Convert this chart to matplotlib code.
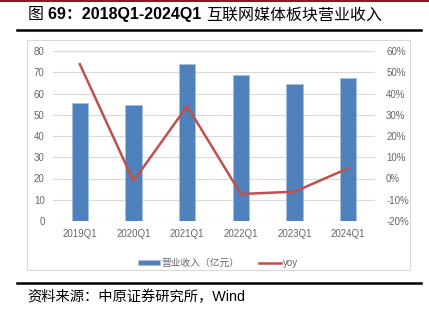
import numpy as np
import matplotlib
matplotlib.use("Agg")
import matplotlib.pyplot as plt
from matplotlib.lines import Line2D
from matplotlib.patches import Rectangle

plt.rcParams['font.family'] = ['Liberation Sans', 'Noto Sans CJK SC', 'DejaVu Sans']
FAM = ['Liberation Sans', 'Noto Sans CJK SC']

quarters = ['2019Q1', '2020Q1', '2021Q1', '2022Q1', '2023Q1', '2024Q1']
revenue = [55.5, 54.8, 73.8, 68.6, 64.5, 67.5]   # 营业收入（亿元）
yoy = [53.8, -1.2, 34.1, -7.3, -6.2, 4.8]        # %

W, H = 429, 322
fig = plt.figure(figsize=(W / 100, H / 100), dpi=100)

def px(x0, y0, x1, y1):
    # pixel box -> figure fraction
    return [x0 / W, 1 - y1 / H, (x1 - x0) / W, (y1 - y0) / H]

# decoration lines
fig.add_artist(Line2D([0, 1], [1 - 0.5 / H, 1 - 0.5 / H], color='#8B1A1A', lw=1.5))
fig.add_artist(Line2D([17 / W, 421 / W], [1 - 29.5 / H] * 2, color='black', lw=1.8))
fig.add_artist(Line2D([17 / W, 421 / W], [1 - 283 / H] * 2, color='black', lw=1.8))
fig.add_artist(Rectangle((27 / W, 1 - 270 / H), 383 / W, 230 / H, fill=False,
                         edgecolor='#D9D9D9', lw=0.8))

# title in pieces: bold numbers, lighter chinese
pieces = [('图 ', 'normal'), ('69：2018Q1-2024Q1 ', 'bold'), ('互联网媒体板块营业收入', 'normal')]
renderer = fig.canvas.get_renderer()
xpos = 28
for s, w in pieces:
    t = fig.text(xpos / W, 1 - 15 / H, s, fontsize=11.5, fontweight=w,
                 va='center', ha='left', family=FAM)
    xpos += t.get_window_extent(renderer).width

fig.text(27 / W, 1 - 297 / H, '资料来源：中原证券研究所，Wind',
         fontsize=10.3, va='center', ha='left', family=FAM)

ax = fig.add_axes(px(53, 51, 375, 221))
x = np.arange(len(quarters))
ax.bar(x, revenue, width=0.3, color='#4F81BD', edgecolor='#A7C0DE', lw=0.6,
       zorder=3, label='营业收入（亿元）')
ax.set_xlim(-0.5, 5.5)
ax.set_ylim(0, 80)
ax.set_yticks(range(0, 81, 10))
ax.set_xticks(x)
ax.set_xticklabels(quarters)
ax.grid(axis='y', color='#D9D9D9', lw=0.8, zorder=0)
ax.tick_params(length=0, labelsize=7, colors='#666666', pad=6)
for s in ax.spines.values():
    s.set_visible(False)

ax2 = ax.twinx()
ax2.plot(x, yoy, color='#C0504D', lw=1.8, zorder=4, label='yoy')
ax2.set_ylim(-20, 60)
ax2.set_yticks(range(-20, 61, 10))
ax2.set_yticklabels([f'{v}%' for v in range(-20, 61, 10)])
ax2.tick_params(length=0, labelsize=7, colors='#666666', pad=8)
for s in ax2.spines.values():
    s.set_visible(False)

h1, l1 = ax.get_legend_handles_labels()
h2, l2 = ax2.get_legend_handles_labels()
fig.legend(h1 + h2, l1 + l2, loc='center', bbox_to_anchor=(218 / W, 1 - 263 / H),
           ncol=2, frameon=False, handlelength=2.2, handleheight=0.5,
           columnspacing=2.0, handletextpad=0.2,
           prop={'family': FAM, 'size': 7}, labelcolor='#666666')

fig.savefig('out.png', dpi=100)
